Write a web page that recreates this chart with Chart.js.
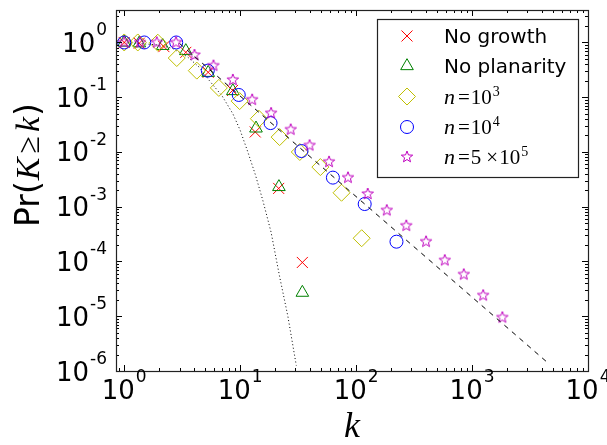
<!DOCTYPE html>
<html>
<head>
<meta charset="utf-8">
<script src="https://cdn.jsdelivr.net/npm/chart.js@4.4.1/dist/chart.umd.min.js"></script>
<style>
  html, body { margin: 0; padding: 0; background: #fff; }
  #chart { display: block; }
</style>
</head>
<body>
<canvas id="chart" width="607" height="445"></canvas>
<script>
// values (log-log CCDF)
const noGrowthK = [1, 1.35, 2.2, 3.4, 5.3, 8.6, 13.5, 21.5, 34.4];
const noGrowthP = [1, 0.97, 0.84, 0.66, 0.285, 0.133, 0.0232, 0.00216, 9.6e-5];

const noPlanarK = [1, 1.35, 2.15, 3.4, 5.3, 8.65, 13.7, 21.6, 34.4];
const noPlanarP = [1, 0.97, 0.87, 0.70, 0.28, 0.13, 0.027, 0.0023, 2.7e-5];

const n1e3K = [1, 1.31, 1.95, 2.84, 4.23, 6.55, 9.9, 14.5, 21.9, 32.7, 49.2, 74.9, 111.7];
const n1e3P = [1, 1, 0.99, 0.52, 0.306, 0.148, 0.085, 0.0405, 0.0187, 0.01, 0.0053, 0.0018, 2.66e-4];

const n1e4K = [1, 1.49, 2.81, 5.26, 9.73, 18.3, 33.8, 63.1, 118.6, 223];
const n1e4P = [1, 1, 1, 0.306, 0.11, 0.0337, 0.0104, 0.0034, 0.00112, 2.3e-4];

const n5e5K = [1, 1.37, 1.91, 2.8, 4.04, 5.89, 8.65, 12.7, 18.5, 27.3, 39.7, 58.4, 85.1,
               126, 184, 271, 401, 582, 849, 1247, 1826];
const n5e5P = [1, 1, 1, 1, 0.59, 0.377, 0.207, 0.09, 0.051, 0.0256, 0.0132, 0.0066, 0.0034,
               0.00171, 8.6e-4, 4.5e-4, 2.3e-4, 1.05e-4, 5.8e-5, 2.4e-5, 9.5e-6];

// power-law guide (dashed) and fast-decaying reference curve (dotted)
const dashK = [3, 4520];
const dashP = [0.96, 1.4e-6];
const dotK = [1, 2, 2.6, 3.5, 4.46, 5.44, 7, 8.65, 10, 11.65, 13.5, 15.7, 18.5, 21.9, 25.8, 30.5];
const dotP = [1, 0.9, 0.78, 0.55, 0.35, 0.2, 0.105, 0.05, 0.025, 0.01, 0.0039, 0.0013, 3.4e-4, 5.3e-5, 1e-5, 1.26e-6];

const xTickExps = [0, 1, 2, 3, 4];
const yTickExps = [0, -1, -2, -3, -4, -5, -6];

const legendNames = ['No growth', 'No planarity', 'n=10^3', 'n=10^4', 'n=5x10^5'];

function pts(ks, ps) {
    return ks.map((k, i) => ({ x: k, y: ps[i] }));
}

function starImage(r, color) {
    const c = document.createElement('canvas');
    const s = Math.ceil(2 * r + 4);
    c.width = s; c.height = s;
    const g = c.getContext('2d');
    g.strokeStyle = color;
    g.lineWidth = 1;
    g.beginPath();
    for (let i = 0; i < 10; i++) {
        const rad = i % 2 ? r * 0.42 : r;
        const ang = -Math.PI / 2 + i * Math.PI / 5;
        g.lineTo(s / 2 + rad * Math.cos(ang), s / 2 + rad * Math.sin(ang));
    }
    g.closePath();
    g.stroke();
    return c;
}
const starPic = starImage(6, '#bf00bf');

function markerSet(label, data, style, color, radius, order) {
    return {
        label: label,
        data: data,
        showLine: false,
        pointStyle: style,
        pointRadius: radius,
        pointHoverRadius: radius,
        pointBorderColor: color,
        pointBackgroundColor: 'rgba(0,0,0,0)',
        pointBorderWidth: 1,
        order: order
    };
}

// draws a run of text pieces with different fonts one after another
function runs(ctx, parts, x, y) {
    let cx = x;
    parts.forEach(p => {
        ctx.font = p.f;
        cx += p.gap || 0;
        ctx.fillText(p.t, cx, y - (p.dy || 0));
        cx += ctx.measureText(p.t).width;
    });
    return cx;
}
function runsWidth(ctx, parts) {
    let w = 0;
    parts.forEach(p => { ctx.font = p.f; w += (p.gap || 0) + ctx.measureText(p.t).width; });
    return w;
}

const SANS = '"DejaVu Sans"';
const SERIF = '"Liberation Serif"';

function powParts(e) {
    return [
        { t: '10', f: '26px ' + SANS },
        { t: String(e), f: '17px ' + SANS, dy: 16.6, gap: 1 }
    ];
}

const inkPlugin = {
    id: 'ink',
    afterDraw(chart) {
        const ctx = chart.ctx;
        const a = chart.chartArea;
        const xs = chart.scales.x, ys = chart.scales.y;
        const L = Math.round(a.left), R = Math.round(a.right), T = Math.round(a.top), B = Math.round(a.bottom);
        ctx.save();

        // ticks, inward on all four sides
        ctx.strokeStyle = '#000';
        ctx.lineWidth = 1;
        ctx.beginPath();
        for (let d = -1; d <= 4; d++) {
            for (let m = 1; m <= 9; m++) {
                const v = m * Math.pow(10, d);
                if (v < xs.min || v > xs.max) continue;
                const px = Math.round(xs.getPixelForValue(v)) + 0.5;
                const len = m === 1 ? 6 : 3;
                ctx.moveTo(px, B); ctx.lineTo(px, B - len);
                ctx.moveTo(px, T); ctx.lineTo(px, T + len);
            }
        }
        for (let d = -6; d <= 0; d++) {
            for (let m = 1; m <= 9; m++) {
                const v = m * Math.pow(10, d);
                if (v < ys.min * 0.999 || v > ys.max) continue;
                const py = Math.round(ys.getPixelForValue(v)) + 0.5;
                const len = m === 1 ? 6 : 3;
                ctx.moveTo(L, py); ctx.lineTo(L + len, py);
                ctx.moveTo(R, py); ctx.lineTo(R - len, py);
            }
        }
        ctx.stroke();

        // frame
        ctx.lineWidth = 1.2;
        ctx.strokeStyle = '#222';
        ctx.strokeRect(L + 0.5, T + 0.5, R - L, B - T);

        // tick labels
        ctx.fillStyle = '#000';
        ctx.textBaseline = 'alphabetic';
        ctx.textAlign = 'left';
        xTickExps.forEach(e => {
            const parts = powParts(e);
            const w = runsWidth(ctx, parts);
            const px = xs.getPixelForValue(Math.pow(10, e));
            runs(ctx, parts, px - w / 2, 399);
        });
        yTickExps.forEach(e => {
            const parts = powParts(e);
            const w = runsWidth(ctx, parts);
            const py = ys.getPixelForValue(Math.pow(10, e));
            runs(ctx, parts, 107 - w, py + 9.5);
        });

        // x title
        ctx.font = 'italic 36px ' + SERIF;
        ctx.textAlign = 'center';
        ctx.fillText('k', 352, 437);
        ctx.textAlign = 'left';

        // y title, rotated
        const yt = [
            { t: 'Pr(', f: '33px ' + SANS },
            { t: 'K', f: 'italic 34px ' + SERIF, gap: 1 },
            { t: '\u2265', f: '32px ' + SERIF, gap: 4 },
            { t: 'k', f: 'italic 34px ' + SERIF, gap: 4 },
            { t: ')', f: '33px ' + SANS, gap: 1 }
        ];
        const yw = runsWidth(ctx, yt);
        ctx.save();
        ctx.translate(39, 165);
        ctx.rotate(-Math.PI / 2);
        runs(ctx, yt, -yw / 2, 0);
        ctx.restore();

        // legend
        const lx = 377.5, ly = 19.5, lw = 201, lh = 158;
        ctx.fillStyle = '#fff';
        ctx.fillRect(lx, ly, lw, lh);
        ctx.strokeStyle = '#222';
        ctx.lineWidth = 1.2;
        ctx.strokeRect(lx, ly, lw, lh);
        const rows = [36, 66, 96.5, 127, 157];
        const texts = [
            [{ t: legendNames[0], f: '20px ' + SANS }],
            [{ t: legendNames[1], f: '20px ' + SANS }],
            [{ t: 'n', f: 'italic 22px ' + SERIF }, { t: '=', f: '21px ' + SERIF, gap: 3 },
             { t: '10', f: '21px ' + SERIF, gap: 1 }, { t: '3', f: '14px ' + SERIF, dy: 8, gap: 1 }],
            [{ t: 'n', f: 'italic 22px ' + SERIF }, { t: '=', f: '21px ' + SERIF, gap: 3 },
             { t: '10', f: '21px ' + SERIF, gap: 1 }, { t: '4', f: '14px ' + SERIF, dy: 8, gap: 1 }],
            [{ t: 'n', f: 'italic 22px ' + SERIF }, { t: '=', f: '21px ' + SERIF, gap: 3 },
             { t: '5', f: '21px ' + SERIF, gap: 1 }, { t: '\u00d7', f: '21px ' + SERIF, gap: 5 },
             { t: '10', f: '21px ' + SERIF, gap: 1 }, { t: '5', f: '14px ' + SERIF, dy: 8, gap: 1 }]
        ];
        const sets = chart.data.datasets.slice(0, 5);
        sets.forEach((ds, i) => {
            ctx.strokeStyle = ds.pointBorderColor;
            ctx.fillStyle = 'rgba(0,0,0,0)';
            ctx.lineWidth = 1;
            Chart.helpers.drawPoint(ctx, {
                pointStyle: ds.pointStyle, radius: ds.pointRadius, rotation: 0, borderWidth: 1
            }, 407, rows[i]);
            ctx.fillStyle = '#000';
            runs(ctx, texts[i], 444, rows[i] + 7);
        });

        ctx.restore();
    }
};

const ctx = document.getElementById('chart').getContext('2d');
const chart = new Chart(ctx, {
    type: 'scatter',
    data: {
        datasets: [
            markerSet(legendNames[0], pts(noGrowthK, noGrowthP), 'crossRot', '#ff0000', 7.8, 5),
            markerSet(legendNames[1], pts(noPlanarK, noPlanarP), 'triangle', '#008000', 7.3, 4),
            markerSet(legendNames[2], pts(n1e3K, n1e3P), 'rectRot', '#bfbf00', 8.5, 3),
            markerSet(legendNames[3], pts(n1e4K, n1e4P), 'circle', '#0000ff', 6.5, 2),
            markerSet(legendNames[4], pts(n5e5K, n5e5P), starPic, '#bf00bf', 6, 1),
            {
                label: 'fit',
                data: pts(dashK, dashP),
                showLine: true,
                borderColor: '#000',
                borderWidth: 1,
                borderDash: [5, 5],
                pointRadius: 0,
                order: 0
            },
            {
                label: 'ref',
                data: pts(dotK, dotP),
                showLine: true,
                borderColor: '#000',
                borderWidth: 1,
                borderDash: [1, 2.5],
                pointRadius: 0,
                order: 6
            }
        ]
    },
    options: {
        responsive: false,
        animation: false,
        layout: { padding: { left: 116, right: 19, top: 9, bottom: 74 } },
        scales: {
            x: { type: 'logarithmic', min: 0.85, max: 10000, display: false },
            y: { type: 'logarithmic', min: 1e-6, max: 4, display: false }
        },
        plugins: {
            legend: { display: false },
            tooltip: { enabled: false }
        }
    },
    plugins: [inkPlugin]
});
</script>
</body>
</html>
